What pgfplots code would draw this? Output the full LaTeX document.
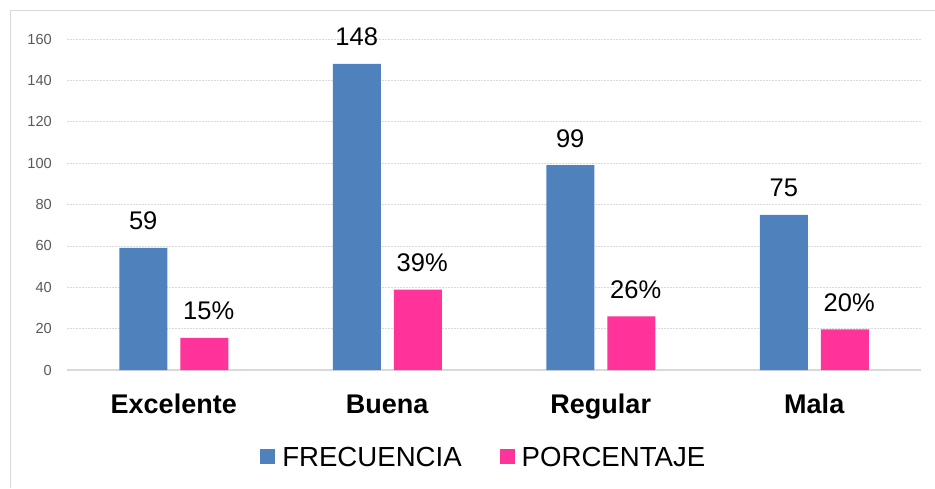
\documentclass[border=0pt]{standalone}
\usepackage{fontspec}
\setmainfont{Liberation Sans}
\usepackage{pgfplots}
\pgfplotsset{compat=1.18}
\definecolor{bblue}{HTML}{4F81BD}
\definecolor{bpink}{HTML}{FF3399}
\definecolor{gridc}{HTML}{D9D9D9}
\definecolor{tickc}{HTML}{595959}
\begin{document}
\begin{tikzpicture}
\useasboundingbox (0pt,0pt) rectangle (935pt,488pt);
\draw[gridc, line width=1pt] (10pt,0pt) -- (10pt,477.5pt) -- (935pt,477.5pt);
\begin{axis}[
  at={(67pt,118pt)}, anchor=south west,
  scale only axis, width=854pt, height=331pt,
  xmin=-0.5, xmax=3.5, ymin=0, ymax=160,
  clip=false,
  /pgf/number format/assume math mode=true,
  axis x line*=bottom, axis y line*=left,
  x axis line style={gridc, line width=1.5pt},
  y axis line style={draw=none},
  major tick length=0pt,
  xtick={0,1,2,3},
  xticklabels={Excelente,Buena,Regular,Mala},
  xticklabel style={font=\bfseries\fontsize{27}{30}\selectfont, anchor=base, yshift=-43pt, inner sep=0pt},
  ytick={0,20,...,160},
  yticklabel style={font=\fontsize{14.6}{16}\selectfont, text=tickc, anchor=east, inner sep=0pt, xshift=-15pt},
  ymajorgrids,
  grid style={gridc, dash pattern=on 2pt off 1pt, line width=0.75pt},
  legend columns=2,
  legend style={at={(0.488,-0.266)}, anchor=center, draw=none, fill=none,
    font=\fontsize{27.6}{30}\selectfont,
    /tikz/every even column/.append style={column sep=36pt}},
  nodes near coords style={font=\fontsize{25.5}{28}\selectfont, text=black, anchor=base, yshift=18pt, inner sep=0pt},
]
\addplot[ybar, bar width=48pt, bar shift=-30.5pt, fill=bblue, draw=none,
  legend image code/.code={\fill[bblue] (0pt,-5.5pt) rectangle (15pt,9.5pt); \path (20pt,0pt);},
  nodes near coords, every node near coord/.append style={xshift=-30.5pt}]
  coordinates {(0,59) (1,148) (2,99) (3,75)};
\addlegendentry{FRECUENCIA}
\addplot[ybar, bar width=48pt, bar shift=30.5pt, fill=bpink, draw=none,
  legend image code/.code={\fill[bpink] (0pt,-5.5pt) rectangle (15pt,9.5pt); \path (20pt,0pt);},
  point meta=explicit symbolic, nodes near coords, every node near coord/.append style={xshift=35pt}]
  coordinates {(0,15.49)[15\%] (1,38.85)[39\%] (2,25.98)[26\%] (3,19.69)[20\%]};
\addlegendentry{PORCENTAJE}
\end{axis}
\end{tikzpicture}
\end{document}
